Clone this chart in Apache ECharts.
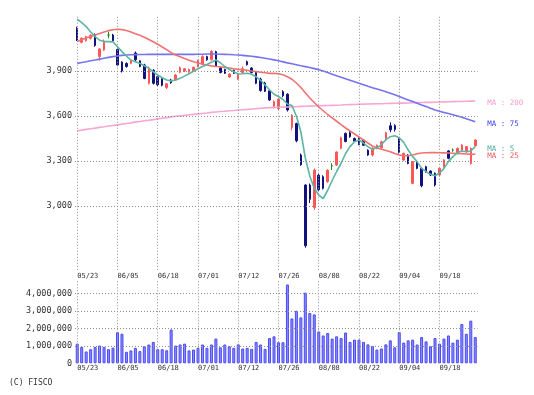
<!DOCTYPE html>
<html><head><meta charset="utf-8">
<script src="https://cdn.jsdelivr.net/npm/echarts@6/dist/echarts.min.js"></script>
<style>html,body{margin:0;padding:0;background:#fff}#c{width:534px;height:395px}</style>
</head><body><div id="c"></div>
<script>
const dates = ['05/23','05/24','05/27','05/28','05/29','05/30','05/31',
'06/03','06/04','06/05','06/06','06/07','06/10','06/11','06/12','06/13','06/14','06/17','06/18','06/19','06/20','06/21','06/24','06/25','06/26','06/27','06/28',
'07/01','07/02','07/03','07/04','07/05','07/08','07/09','07/10','07/11','07/12','07/16','07/17','07/18','07/19','07/22','07/23','07/24','07/25','07/26','07/29','07/30','07/31',
'08/01','08/02','08/05','08/06','08/07','08/08','08/09','08/13','08/14','08/15','08/16','08/19','08/20','08/21','08/22','08/23','08/26','08/27','08/28','08/29','08/30',
'09/02','09/03','09/04','09/05','09/06','09/09','09/10','09/11','09/12','09/13','09/17','09/18','09/19','09/20','09/24','09/25','09/26','09/27','09/30',
'10/01'];

const opens  = [4185,4091,4102,4118,4140,3996,4040,4140,4140,4044,3960,3950,3951,4020,3968,3940,3818,3905,3862,3850,3790,3840,3840,3892,3900,3893,3902,3929,3945,3996,3975,4029,3920,3910,3860,3905,3845,3890,3962,3920,3890,3845,3820,3768,3665,3650,3762,3745,3525,3550,3340,3140,3140,2990,3205,3195,3162,3268,3273,3385,3484,3488,3450,3450,3440,3372,3340,3384,3388,3440,3535,3536,3447,3307,3340,3151,3296,3251,3262,3233,3218,3207,3262,3367,3373,3351,3373,3362,3284,3402];
const closes = [4107,4118,4129,4138,4070,4047,4100,4140,4102,3940,3900,3930,3970,3975,3930,3850,3920,3818,3808,3805,3815,3822,3873,3922,3915,3910,3924,3970,3996,3975,4030,3935,3890,3885,3880,3885,3875,3915,3942,3890,3818,3770,3765,3707,3695,3712,3735,3640,3605,3435,3275,2735,3045,3240,3108,3118,3238,3268,3360,3455,3430,3462,3432,3410,3405,3340,3385,3405,3428,3488,3508,3510,3358,3351,3284,3296,3251,3135,3229,3207,3140,3251,3307,3318,3373,3384,3407,3396,3384,3440];
const lows   = [4100,4085,4096,4110,4062,3969,4035,4118,4095,3932,3890,3922,3945,3965,3925,3845,3810,3810,3800,3798,3780,3815,3835,3885,3893,3888,3896,3925,3940,3968,3970,3930,3884,3880,3855,3880,3840,3884,3936,3884,3812,3762,3760,3700,3650,3640,3725,3630,3505,3425,3268,2722,3020,2975,3100,3110,3155,3240,3268,3378,3425,3455,3428,3405,3400,3335,3330,3378,3382,3435,3492,3496,3350,3300,3278,3145,3245,3125,3222,3200,3130,3200,3255,3312,3362,3345,3365,3355,3275,3396];
const highs  = [4195,4125,4135,4145,4150,4052,4110,4162,4148,4050,3965,3958,3975,4030,3972,3948,3930,3912,3868,3856,3820,3848,3880,3930,3920,3916,3930,3976,4005,4002,4040,4035,3925,3915,3885,3910,3880,3930,3970,3925,3896,3855,3828,3772,3705,3720,3772,3752,3612,3555,3350,3145,3150,3250,3215,3205,3245,3285,3365,3462,3490,3500,3456,3458,3446,3378,3392,3410,3435,3495,3558,3545,3452,3356,3345,3300,3300,3258,3268,3238,3224,3256,3312,3372,3384,3390,3412,3400,3390,3445];

const volumes = [1130000,940000,680000,810000,940000,1020000,940000,810000,900000,1790000,
1700000,660000,740000,890000,700000,980000,1080000,1230000,810000,810000,
750000,1940000,1020000,1080000,1130000,740000,790000,890000,1080000,890000,
1080000,1420000,920000,1080000,980000,890000,1090000,850000,890000,830000,
1230000,1080000,830000,1450000,1550000,1210000,1210000,4530000,2580000,3020000,
2640000,4060000,2890000,2810000,1830000,1600000,1740000,1420000,1550000,1450000,
1770000,1230000,1360000,1360000,1230000,1090000,1000000,790000,850000,1090000,
1320000,920000,1790000,1190000,1320000,1360000,1080000,1510000,1260000,980000,
1450000,1130000,1420000,1600000,1190000,1360000,2260000,1700000,2450000,1510000];

const ma5 = [4245,4222,4196,4160,4129,4105,4096,4096,4094,4062,4029,4000,3973,3962,3951,3935,3918,3895,3873,3855,3840,3834,3840,3851,3866,3882,3898,3915,3930,3943,3958,3973,3955,3930,3910,3895,3880,3882,3885,3878,3862,3838,3807,3775,3745,3730,3710,3680,3670,3600,3495,3320,3200,3118,3073,3050,3105,3170,3230,3285,3350,3396,3428,3440,3420,3396,3378,3388,3408,3442,3462,3468,3455,3424,3373,3329,3296,3251,3229,3211,3202,3218,3251,3296,3329,3356,3367,3362,3367,3396];
const ma25 = [4096,4108,4120,4130,4140,4150,4160,4169,4175,4178,4176,4170,4160,4148,4138,4125,4110,4095,4078,4060,4042,4022,4007,3995,3983,3972,3962,3954,3946,3940,3934,3930,3928,3924,3920,3915,3911,3908,3905,3900,3896,3892,3888,3884,3884,3882,3875,3862,3845,3820,3790,3755,3720,3690,3660,3635,3610,3588,3565,3542,3520,3500,3480,3460,3440,3420,3400,3388,3378,3370,3362,3350,3340,3336,3335,3340,3348,3353,3355,3356,3356,3355,3354,3353,3352,3350,3349,3347,3346,3345];
const ma75 = [3951,3957,3962,3968,3973,3979,3985,3991,3996,4000,4004,4007,4008,4009,4010,4010,4011,4011,4011,4011,4011,4011,4011,4011,4011,4011,4011,4012,4012,4013,4013,4013,4012,4011,4010,4008,4007,4004,4001,3998,3994,3990,3985,3980,3974,3968,3961,3954,3948,3942,3935,3929,3923,3916,3909,3900,3890,3879,3868,3858,3848,3838,3828,3818,3808,3798,3789,3780,3771,3761,3751,3741,3730,3718,3707,3696,3685,3674,3663,3651,3640,3632,3624,3616,3608,3600,3592,3582,3572,3562];
const ma200 = [3502,3506,3511,3515,3519,3524,3528,3533,3537,3541,3546,3550,3554,3559,3563,3568,3572,3576,3581,3585,3589,3594,3598,3601,3604,3608,3611,3614,3617,3620,3624,3627,3630,3632,3635,3637,3640,3642,3644,3647,3649,3652,3654,3656,3657,3658,3659,3660,3661,3662,3664,3665,3666,3667,3668,3669,3670,3671,3672,3673,3675,3676,3677,3678,3679,3680,3681,3682,3682,3683,3684,3685,3686,3686,3687,3688,3689,3690,3691,3691,3692,3693,3694,3695,3696,3697,3697,3698,3699,3700];

const dateTicks = ['05/23','06/05','06/18','07/01','07/12','07/26','08/08','08/22','09/04','09/18'];
const priceTicks = [3000,3300,3600,3900];
const volumeTicks = [1000000,2000000,3000000,4000000];
const maNames = ['MA : 5','MA : 25','MA : 75','MA : 200'];

const MONO = '"DejaVu Sans Mono", monospace';
const UP = '#ff5757', DOWN = '#12127e', DOJI = '#1f8a1f';
const dotted = {type:[1,2], color:'#8f8f8f', width:1};

const candleData = dates.map((d, i) => {
  const v = [opens[i], closes[i], lows[i], highs[i]];
  return opens[i] === closes[i]
    ? {value: v, itemStyle: {color: DOJI, color0: DOJI, borderColor: DOJI, borderColor0: DOJI}}
    : v;
});

function gridMarks(vals, key) {
  return dateTicks.map(d => ({xAxis: d})).concat(vals.map(v => ({[key]: v})));
}
const markBase = {silent: true, symbol: ['none','none'], label: {show: false}, lineStyle: dotted, animation: false, emphasis: {disabled: true}};

function maSeries(name, data, color, labelColor, off) {
  return {
    type: 'line', name, data, xAxisIndex: 0, yAxisIndex: 0,
    showSymbol: false, symbol: 'none', smooth: false,
    lineStyle: {color, width: 1.6}, itemStyle: {color},
    emphasis: {disabled: true},
    endLabel: {show: true, formatter: name, color: labelColor, fontFamily: MONO, fontSize: 7.5, offset: off, distance: 8}
  };
}

const chart = echarts.init(document.getElementById('c'));
chart.setOption({
  animation: false,
  backgroundColor: '#ffffff',
  title: {text: '(C) FISCO', left: 4, top: 374, textStyle: {fontSize: 8, fontWeight: 'normal', color: '#333', fontFamily: MONO}},
  grid: [
    {left: 75, width: 402.5, top: 14.75, height: 255},
    {left: 75, width: 402.5, top: 280.65, height: 82.65}
  ],
  xAxis: [
    {type: 'category', data: dates, gridIndex: 0, boundaryGap: true,
     axisLine: {show: false}, axisTick: {show: false}, splitLine: {show: false},
     axisLabel: {interval: 8, align: 'left', fontSize: 7, margin: 3, color: '#333', fontFamily: MONO}},
    {type: 'category', data: dates, gridIndex: 1, boundaryGap: true,
     axisLine: {show: false}, axisTick: {show: false}, splitLine: {show: false},
     axisLabel: {interval: 8, align: 'left', fontSize: 7, margin: 1.5, color: '#333', fontFamily: MONO}}
  ],
  yAxis: [
    {type: 'value', gridIndex: 0, min: 2575, max: 4275, interval: 25,
     axisLine: {show: false}, axisTick: {show: false}, splitLine: {show: false},
     axisLabel: {margin: 3, fontSize: 8.5, color: '#333', fontFamily: MONO,
       formatter: v => priceTicks.includes(v) ? v.toLocaleString('en-US') : ''}},
    {type: 'value', gridIndex: 1, min: 0, max: 4750000, interval: 250000,
     axisLine: {show: false}, axisTick: {show: false}, splitLine: {show: false},
     axisLabel: {margin: 3, fontSize: 8.5, color: '#333', fontFamily: MONO,
       formatter: v => (v === 0 || volumeTicks.includes(v)) ? v.toLocaleString('en-US') : ''}}
  ],
  series: [
    {type: 'candlestick', name: 'price', data: candleData, xAxisIndex: 0, yAxisIndex: 0,
     barWidth: 2,
     itemStyle: {color: UP, color0: DOWN, borderColor: UP, borderColor0: DOWN, borderWidth: 1},
     emphasis: {disabled: true},
     markLine: Object.assign({data: gridMarks(priceTicks, 'yAxis')}, markBase)},
    maSeries(maNames[3], ma200, '#f7a6d6', '#f59ccf', [4, 2]),
    maSeries(maNames[2], ma75, '#7474f2', '#3b3bf0', [4, 2]),
    maSeries(maNames[1], ma25, '#f27272', '#f05a5a', [4, 2]),
    maSeries(maNames[0], ma5, '#5db5a3', '#4fab98', [4, 2]),
    {type: 'bar', name: 'volume', data: volumes, xAxisIndex: 1, yAxisIndex: 1,
     barWidth: 3,
     itemStyle: {color: '#8c8cff', borderColor: '#4b4bf5', borderWidth: 1},
     emphasis: {disabled: true},
     markLine: Object.assign({data: gridMarks(volumeTicks, 'yAxis')}, markBase)}
  ]
});
</script></body></html>
